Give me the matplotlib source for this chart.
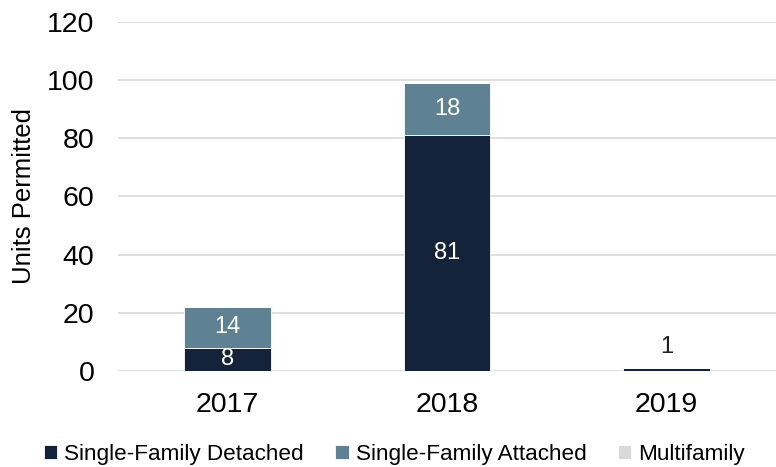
import matplotlib
matplotlib.use("Agg")
import matplotlib.pyplot as plt
import numpy as np

years = ["2017", "2018", "2019"]
detached = [8, 81, 1]
attached = [14, 18, 0]
multifamily = [0, 0, 0]

c_det = "#14233a"
c_att = "#5e8194"
c_mf = "#d9d9d9"

plt.rcParams['font.family'] = ['Liberation Sans', 'DejaVu Sans']

fig = plt.figure(figsize=(7.76, 4.67), dpi=100)
ax = fig.add_axes([0.152, 0.2056, 0.848, 0.7474])

x = np.arange(len(years))
w = 0.395
det = np.array(detached)
att = np.array(attached)
mf = np.array(multifamily)

ax.bar(x, det, w, color=c_det, edgecolor="white", linewidth=0.6, label="Single-Family Detached", zorder=3)
ax.bar(x, att, w, bottom=det, color=c_att, edgecolor="white", linewidth=0.6, label="Single-Family Attached", zorder=3)
ax.bar(x, mf, w, bottom=det + att, color=c_mf, edgecolor="white", linewidth=0.6, label="Multifamily", zorder=3)

for i in range(len(years)):
    if det[i] >= 5:
        ax.text(x[i], det[i] / 2, str(det[i]), ha="center", va="center", color="white", fontsize=17)
    elif det[i] > 0:
        ax.text(x[i], det[i] + 3.5, str(det[i]), ha="center", va="bottom", color="#222222", fontsize=17)
    if att[i] > 0:
        ax.text(x[i], det[i] + att[i] / 2, str(att[i]), ha="center", va="center", color="white", fontsize=17)

ax.set_ylim(0, 120)
ax.set_xlim(-0.5, 2.5)
ax.set_yticks(range(0, 121, 20))
ax.set_xticks(x)
ax.set_xticklabels(years)
ax.tick_params(axis="both", length=0, labelsize=20.5, colors="#000000")
ax.tick_params(axis="y", pad=17)
ax.tick_params(axis="x", pad=15)
ax.grid(axis="y", color="#d9d9d9", linewidth=1.2, zorder=0)
for s in ax.spines.values():
    s.set_visible(False)
ax.set_ylabel("Units Permitted", fontsize=18.5, labelpad=8)

ax.legend(loc="center", bbox_to_anchor=(0.42, -0.24), ncol=3, frameon=False, fontsize=16.2,
          handlelength=0.6, handleheight=0.6, handletextpad=0.3, columnspacing=1.4)

fig.savefig("out.png", dpi=100)
